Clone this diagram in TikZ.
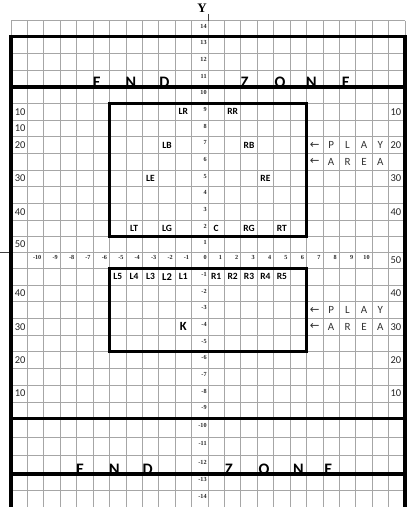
\documentclass[tikz,border=0pt]{standalone}
\usepackage{fontspec}
\setmainfont{Carlito}
\newfontfamily\numfont{Liberation Serif}
\newfontfamily\arrfont{DejaVu Sans}
\begin{document}
\begin{tikzpicture}[x=1pt,y=-1pt,
  gridline/.style={draw=black!35, line width=0.7pt},
  heavy/.style={line width=3.6pt},
  boxline/.style={line width=3pt},
  axnum/.style={font=\numfont\bfseries\fontsize{6.2}{7}\selectfont, inner sep=0pt, anchor=east, text=black!85},
  yardlbl/.style={font=\fontsize{10.5}{12}\selectfont, inner sep=0pt, anchor=west, text=black!85},
  player/.style={font=\bfseries\fontsize{9.5}{11}\selectfont, inner sep=0pt},
  playlbl/.style={font=\fontsize{11}{12}\selectfont, inner sep=0pt, text=black!80},
  zonelbl/.style={font=\bfseries\fontsize{16}{17}\selectfont, inner sep=0pt, anchor=base},
]
\def\rowc{{28.7,45,61.7,78.3,95,111.7,128.3,145,161.7,178.3,195,211.7,228.3,244.3,260.2,276.7,293.3,310,326.7,343.3,359.8,376.5,393.5,410.2,427.7,446.2,464.7,482.2,498.6}}
\useasboundingbox (0,0) rectangle (409,511);
\fill[white] (0,0) rectangle (409,511);

% thin grid
\foreach \y in {20.7,36.7,53.3,70,86.7,103.3,120,136.7,153.3,170,186.7,203.3,220,236.7,252,268.3,285,301.7,318.3,335,351.7,368,385,402,418.3,437,455.5,474,490.5}
  \draw[gridline] (11,\y) -- (405,\y);
\foreach \k in {0,...,24}
  \draw[gridline] ({11+16.4167*\k},20.7) -- ({11+16.4167*\k},506.7);

% axes extensions
\coordinate (ytop) at (208,14);
\coordinate (ybase) at (208,20.7);
\draw[black!75, line width=0.8pt] (ytop) -- (ybase);
\coordinate (xleft) at (0,252);
\coordinate (xgrid) at (9,252);
\draw[black!75, line width=0.8pt] (xleft) -- (xgrid);
\node[font=\numfont\bfseries\fontsize{13}{14}\selectfont, inner sep=0pt] (ylabel) at (202,8.3) {Y};

% centre column row labels
\foreach \r in {0,...,28} {
  \pgfmathsetmacro\yy{\rowc[\r]-2.3}
  \pgfmathtruncatemacro\n{14-\r}
  \node[axnum] (rl\r) at (206.8,\yy) {\n};
}
% x-axis labels
\foreach \n [count=\i] in {-10,-9,-8,-7,-6,-5,-4,-3,-2,-1,1,2,3,4,5,6,7,8,9,10} {
  \pgfmathsetmacro\xx{11+16.4167*(12+\n)-2.3}
  \node[axnum] (xl\i) at (\xx,257.5) {\n};
}

% yard labels left
\foreach \t/\r [count=\i] in {10/5,10/6,20/7,30/9,40/11,50/13,40/16,30/18,20/20,10/22} {
  \pgfmathsetmacro\yy{\rowc[\r]}
  \node[yardlbl] (yl\i) at (14.6,\yy) {\t};
}
% yard labels right
\foreach \t/\r [count=\i] in {10/5,20/7,30/9,40/11,50/14,40/16,30/18,20/20,10/22} {
  \pgfmathsetmacro\yy{\rowc[\r]}
  \node[yardlbl] (yr\i) at (390.4,\yy) {\t};
}

% players
\foreach \t/\c/\r in {LR/10/5,RR/13/5,LB/9/7,RB/14/7,LE/8/9,RE/15/9,LT/7/12,LG/9/12,C/12/12,RG/14/12,RT/16/12,L5/6/15,L4/7/15,L3/8/15,L1/10/15,R1/12/15,R2/13/15,R3/14/15,R4/15/15,R5/16/15} {
  \pgfmathsetmacro\xx{19.21+16.4167*\c}
  \pgfmathsetmacro\yy{\rowc[\r]}
  \node[player] (p\t) at (\xx,\yy) {\t};
}
\node[player, font=\bfseries\fontsize{10.5}{12}\selectfont] (pL2) at ({19.21+16.4167*9},276.7) {L2};
\node[player, font=\bfseries\fontsize{12.5}{14}\selectfont] (pK) at ({19.21+16.4167*10},326.7) {K};

% PLAY AREA labels
\foreach \r/\tag in {7/ua,8/ub,17/la,18/lb} {
  \pgfmathsetmacro\yy{\rowc[\r]}
  \node[playlbl, font=\arrfont\fontsize{11.5}{12}\selectfont] (arr\tag) at ({19.21+16.4167*18},\yy) {←};
}
\foreach \t/\c/\r [count=\i] in {P/19/7,L/20/7,A/21/7,Y/22/7,A/19/8,R/20/8,E/21/8,A/22/8,P/19/17,L/20/17,A/21/17,Y/22/17,A/19/18,R/20/18,E/21/18,A/22/18} {
  \pgfmathsetmacro\xx{19.21+16.4167*\c}
  \pgfmathsetmacro\yy{\rowc[\r]}
  \node[playlbl] (pa\i) at (\xx,\yy) {\t};
}

% END ZONE letters
\foreach \t/\x [count=\i] in {E/96.7,N/131,D/164.3,Z/244.7,O/280,N/311.3,E/345.7}
  \node[zonelbl] (ez\i) at (\x,87.6) {\t};
\foreach \t/\x [count=\i] in {E/80,N/114.3,D/147.7,Z/229,O/264,N/298.3,E/328.3}
  \node[zonelbl] (bz\i) at (\x,474) {\t};

% heavy frame and end-zone lines
\draw[heavy] (11,506.7) -- (11,36.7) -- (405,36.7) -- (405,506.7);
\draw[heavy] (11,86.7) -- (405,86.7);
\draw[heavy] (11,418.3) -- (405,418.3);
\draw[heavy] (11,474) -- (405,474);

% play area boxes
\draw[boxline] (109.5,103.3) rectangle (306.6,236.7);
\draw[boxline] (109.5,268.3) rectangle (306.6,351.7);
\end{tikzpicture}
\end{document}
